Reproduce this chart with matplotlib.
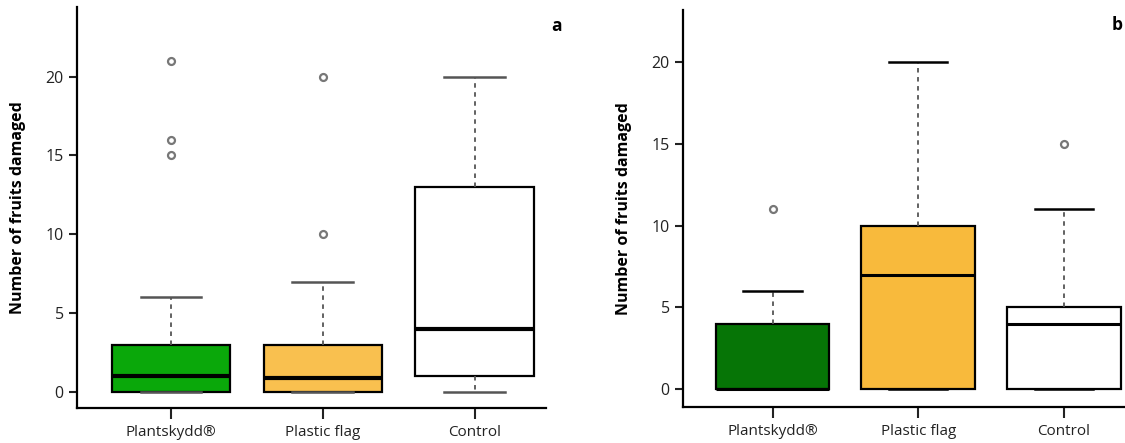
import matplotlib.pyplot as plt

plt.rcParams['font.family'] = ['Open Sans', 'DejaVu Sans']

treatments = ["Plantskydd®", "Plastic flag", "Control"]

# panel a
a_q1 = [0, 0, 1]
a_med = [1, 0.9, 4]
a_q3 = [3, 3, 13]
a_lo = [0, 0, 0]
a_hi = [6, 7, 20]
a_fliers = [[15, 16, 21], [10, 20], []]

# panel b
b_q1 = [0, 0, 0]
b_med = [0, 7, 4]
b_q3 = [4, 10, 5]
b_lo = [0, 0, 0]
b_hi = [6, 20, 11]
b_fliers = [[11], [], [15]]

a_colors = ["#0aa80a", "#f9c04f", "white"]
b_colors = ["#067506", "#f8ba3c", "white"]


def make_stats(q1, med, q3, lo, hi, fliers):
    return [dict(q1=q1[i], med=med[i], q3=q3[i], whislo=lo[i], whishi=hi[i],
                 fliers=fliers[i], label=treatments[i]) for i in range(len(q1))]


def draw_panel(ax, stats, colors, xlim, ylim, med_lw, cap_color):
    bp = ax.bxp(stats, positions=[0, 1, 2], widths=0.78, patch_artist=True,
                boxprops=dict(edgecolor="black", linewidth=1.6),
                medianprops=dict(color="black", linewidth=med_lw),
                whiskerprops=dict(color="#555555", linewidth=1.3, linestyle=(0, (2.5, 2.5))),
                capprops=dict(color=cap_color, linewidth=1.8),
                flierprops=dict(marker="o", markersize=5, markerfacecolor="white",
                                markeredgecolor="#777777", markeredgewidth=1.6),
                capwidths=0.4)
    for patch, c in zip(bp["boxes"], colors):
        patch.set_facecolor(c)
    ax.set_xlim(*xlim)
    ax.set_ylim(*ylim)
    ax.set_yticks([0, 5, 10, 15, 20])
    ax.set_xticks([0, 1, 2])
    ax.set_xticklabels(treatments)
    ax.tick_params(axis="y", length=6, width=1.5, labelsize=11.5, colors="#222222")
    ax.tick_params(axis="x", length=8, width=1.5, labelsize=11, colors="#222222", pad=4)
    for s in ["top", "right"]:
        ax.spines[s].set_visible(False)
    for s in ["left", "bottom"]:
        ax.spines[s].set_linewidth(1.6)
    ax.set_ylabel("Number of fruits damaged", fontsize=11.5, fontweight="bold", labelpad=14)
    return bp


fig = plt.figure(figsize=(11.25, 4.43), dpi=100)
ax_a = fig.add_axes([0.0684, 0.079, 0.4169, 0.905])
ax_b = fig.add_axes([0.6071, 0.0813, 0.3929, 0.896])

draw_panel(ax_a, make_stats(a_q1, a_med, a_q3, a_lo, a_hi, a_fliers), a_colors,
           (-0.62, 2.47), (-1.01, 24.4), 3.0, "#555555")
draw_panel(ax_b, make_stats(b_q1, b_med, b_q3, b_lo, b_hi, b_fliers), b_colors,
           (-0.615, 2.42), (-1.1, 23.2), 2.2, "black")

fig.text(557 / 1125, 1 - 26 / 443, "a", fontsize=12.5, fontweight="bold", ha="center", va="center")
fig.text(1117 / 1125, 1 - 25 / 443, "b", fontsize=12.5, fontweight="bold", ha="center", va="center")

fig.savefig("out.png", dpi=100)
